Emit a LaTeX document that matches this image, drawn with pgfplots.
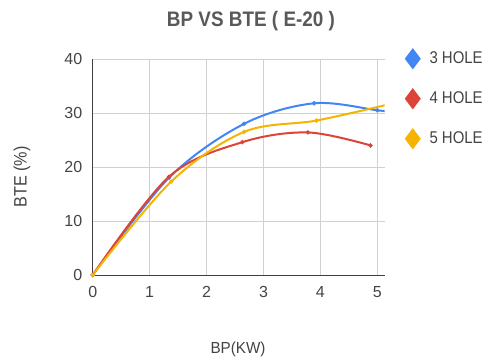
\documentclass[border=0pt]{standalone}
\usepackage{pgfplots}
\pgfplotsset{compat=1.18}
\usepackage{fontspec}
\setmainfont{Liberation Sans}
\definecolor{gblue}{HTML}{4285F4}
\definecolor{gred}{HTML}{DB4437}
\definecolor{gyellow}{HTML}{F4B400}
\definecolor{txt}{HTML}{444444}
\newcommand{\nar}[1]{\scalebox{0.88}[1]{#1}}
\begin{document}
\begin{tikzpicture}
\path[use as bounding box] (0pt,0pt) rectangle (490pt,359pt);
\begin{axis}[
  at={(92.7pt,84pt)}, anchor=south west,
  scale only axis, width=292pt, height=216pt,
  xmin=0, xmax=5.13, ymin=0, ymax=40,
  xtick={0,1,2,3,4,5}, ytick={0,10,20,30,40},
  axis x line*=bottom, axis y line*=left,
  axis line style={-, draw=black!75, line width=1pt},
  major tick length=0pt,
  grid=major, major grid style={draw=black!18, line width=0.8pt},
  tick label style={font=\fontsize{16}{18}\selectfont, text=txt},
  /pgf/number format/assume math mode=true,
  xticklabel style={yshift=-8pt},
  yticklabel style={xshift=-7pt},
  legend style={at={(1.062,1.053)}, anchor=north west, draw=none, fill=none,
    font=\fontsize{17}{19}\selectfont, text=txt, row sep=22pt,
    /tikz/every odd column/.append style={column sep=8pt}},
  legend image code/.code={\draw[#1, mark=diamond*, mark size=9pt, mark options={draw=none}] plot coordinates {(0.3cm,0cm)};},
  legend cell align=left,
  clip=true,
]
\addplot[gblue, line width=2pt, smooth, tension=0.55, mark=*, mark size=1pt] coordinates {
 (0,0) (1.34,18.0) (2.66,28.0) (3.89,31.8) (5.0,30.5) (5.2,30.3)};
\addlegendentry{\nar{3 HOLE}}
\addplot[gred, line width=2pt, smooth, tension=0.55, mark=*, mark size=1pt] coordinates {
 (0,0) (1.34,18.2) (2.63,24.6) (3.78,26.4) (4.88,24.0)};
\addlegendentry{\nar{4 HOLE}}
\addplot[gyellow, line width=2pt, smooth, tension=0.55, mark=*, mark size=1pt] coordinates {
 (0,0) (1.38,17.3) (2.66,26.5) (3.93,28.6) (5.2,31.6)};
\addlegendentry{\nar{5 HOLE}}
\end{axis}
\node[font=\bfseries\fontsize{21}{24}\selectfont, text=black!65] at (251pt,338pt) {\scalebox{0.9}[1]{BP VS BTE ( E-20 )}};
\node[rotate=90, font=\fontsize{18}{21}\selectfont, text=txt] at (22pt,182pt) {\scalebox{0.9}[1]{BTE (\%)}};
\node[font=\fontsize{16}{19}\selectfont, text=txt] at (238pt,10pt) {\scalebox{0.95}[1]{BP(KW)}};
\end{tikzpicture}
\end{document}
